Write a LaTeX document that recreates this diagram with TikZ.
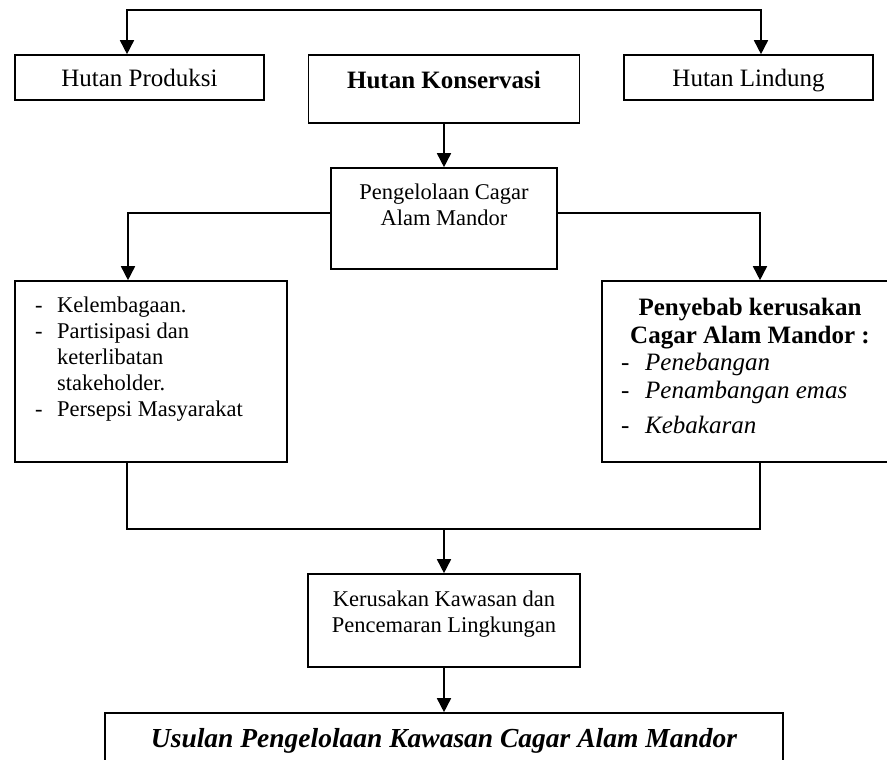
\documentclass[tikz,border=0pt]{standalone}
\usepackage{fontspec}
\setmainfont{Liberation Serif}
\usetikzlibrary{arrows.meta}

\newcommand{\fbesar}{\fontsize{25pt}{28pt}\selectfont}
\newcommand{\fsedang}{\fontsize{22.5pt}{26pt}\selectfont}
\newcommand{\fusulan}{\fontsize{27.5pt}{32pt}\selectfont}
\newcommand{\strip}[1]{\makebox[#1][l]{-}}

\begin{document}
\begin{tikzpicture}[x=1pt, y=-1pt]

\tikzstyle{every node} = [inner sep=0pt]
\tikzstyle{kotak} = [rectangle, draw, line width=1.6pt]
\tikzstyle{garis} = [line width=1.6pt]
\tikzstyle{panah} = [line width=1.6pt, -{Triangle[width=14pt,length=14pt]}]
\tikzstyle{panah2} = [line width=1.6pt, {Triangle[width=14pt,length=14pt]}-{Triangle[width=14pt,length=14pt]}]

\useasboundingbox (0,0) rectangle (887,760);
\clip (0,0) rectangle (887,760);

% baris atas
\node[kotak, minimum width=249pt, minimum height=45pt, font=\fbesar, text depth=0pt] (prod) at (139.5,77.5) {Hutan Produksi};
\node[kotak, minimum width=271pt, minimum height=68pt] (kons) at (444,89) {};
\node[font=\fbesar\bfseries] (konsteks) at (444,80) {Hutan Konservasi};
\node[kotak, minimum width=249pt, minimum height=45pt, font=\fbesar, text depth=0pt] (lind) at (748.5,77.5) {Hutan Lindung};

\node[kotak, minimum width=226pt, minimum height=101pt] (peng) at (444,218.5) {};
\node[font=\fsedang, align=center] (pengteks) at (444,204.5) {Pengelolaan Cagar\\Alam Mandor};

% kotak kiri dan kanan
\node[kotak, minimum width=272pt, minimum height=181pt] (kiri) at (151,371.5) {};
\node[font=\fsedang, align=left, anchor=west] (kiriteks) at (35,358.7)
  {\strip{22pt}Kelembagaan.\\
   \strip{22pt}Partisipasi dan\\
   \hspace*{22pt}keterlibatan\\
   \hspace*{22pt}stakeholder.\\
   \strip{22pt}Persepsi Masyarakat};

\node[kotak, minimum width=294pt, minimum height=181pt] (kanan) at (749,371.5) {};
\node[font=\fbesar\bfseries, align=center] (penyteks) at (750,323.2) {Penyebab kerusakan\\Cagar Alam Mandor :};
\node[font=\fbesar, align=left, anchor=west] (daftar) at (621,393)
  {\strip{24pt}\textit{Penebangan}\\
   \strip{24pt}\textit{Penambangan emas}\\[7pt]
   \strip{24pt}\textit{Kebakaran}};

\node[kotak, minimum width=272pt, minimum height=93pt] (keru) at (444,620.5) {};
\node[font=\fsedang, align=center] (keruteks) at (444,614.3) {Kerusakan Kawasan dan\\Pencemaran Lingkungan};

\node[kotak, minimum width=678pt, minimum height=64pt] (usul) at (444,745) {};
\node[font=\fusulan\bfseries\itshape] (usulteks) at (444,740.6) {Usulan Pengelolaan Kawasan Cagar Alam Mandor};

% garis penghubung
\coordinate (a1) at (127,10);
\coordinate (a2) at (761,10);
\coordinate (b1) at (128,213);
\coordinate (b2) at (760,213);
\coordinate (c1) at (127,529);
\coordinate (c2) at (760,529);

\draw[panah2] (a1 |- prod.north) -- (a1) -- (a2) -- (a2 |- lind.north);
\draw[panah] (kons) -- (peng);
\draw[panah] (peng.west |- b1) -- (b1) -- (b1 |- kiri.north);
\draw[panah] (peng.east |- b2) -- (b2) -- (b2 |- kanan.north);
\draw[garis] (kiri.south -| c1) -- (c1) -- (c2) -- (kanan.south -| c2);
\draw[panah] (keru.north |- c1) -- (keru.north);
\draw[panah] (keru) -- (usul);

\end{tikzpicture}
\end{document}
